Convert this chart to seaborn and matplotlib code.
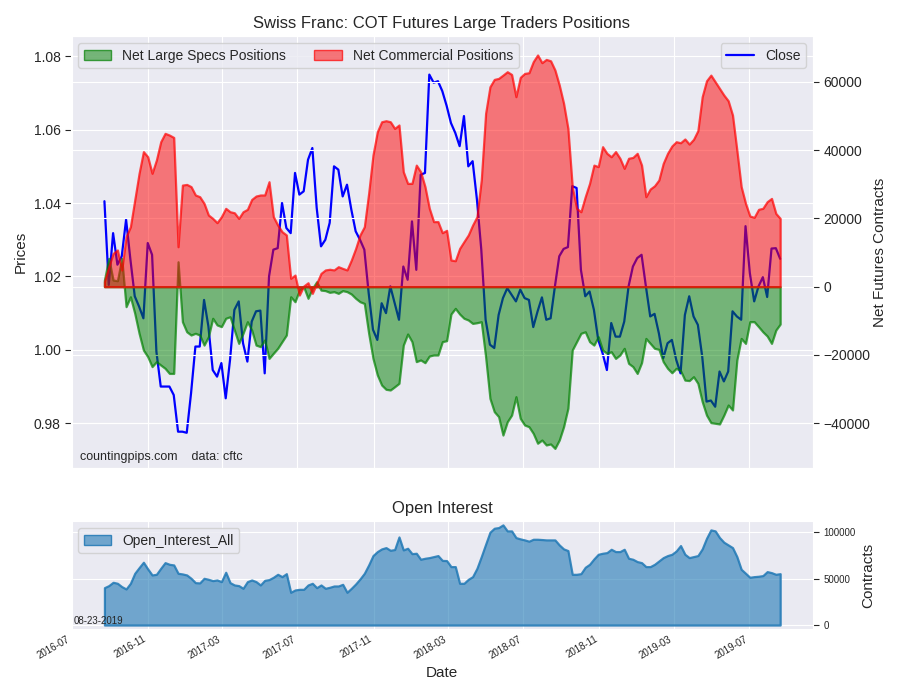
import pandas as pd
import seaborn as sns
import matplotlib
matplotlib.use("Agg")
import matplotlib.pyplot as plt
import matplotlib.dates as mdates
from matplotlib.patches import Patch

# weekly COT report dates (Tuesdays)
dates = pd.date_range("2016-08-23", periods=157, freq="7D")

close = [
    1.0405, 1.0177, 1.0318, 1.0232, 1.0255, 1.0355, 1.0246, 1.0146, 1.0118, 1.0086,
    1.0291, 1.0259, 0.9995, 0.9900, 0.9900, 0.9900, 0.9877, 0.9777, 0.9777, 0.9774,
    0.9882, 1.0009, 1.0009, 1.0136, 1.0064, 0.9945, 0.9927, 0.9964, 0.9868, 0.9973,
    1.0109, 1.0132, 1.0018, 0.9968, 1.0077, 1.0105, 1.0107, 0.9936, 1.0200, 1.0273,
    1.0277, 1.0400, 1.0332, 1.0318, 1.0482, 1.0423, 1.0432, 1.0518, 1.0550, 1.0387,
    1.0282, 1.0300, 1.0346, 1.0500, 1.0491, 1.0418, 1.0450, 1.0382, 1.0323, 1.0300,
    1.0273, 1.0155, 1.0055, 1.0027, 1.0127, 1.0100, 1.0173, 1.0127, 1.0082, 1.0227,
    1.0191, 1.0350, 1.0218, 1.0477, 1.0482, 1.0750, 1.0728, 1.0732, 1.0705, 1.0665,
    1.0618, 1.0591, 1.0555, 1.0637, 1.0500, 1.0514, 1.0409, 1.0273, 1.0082, 1.0014,
    1.0005, 1.0095, 1.0141, 1.0168, 1.0150, 1.0132, 1.0164, 1.0141, 1.0136, 1.0062,
    1.0105, 1.0143, 1.0082, 1.0086, 1.0173, 1.0255, 1.0275, 1.0280, 1.0446, 1.0441,
    1.0218, 1.0146, 1.0159, 1.0109, 1.0027, 0.9991, 0.9945, 1.0073, 1.0036, 1.0036,
    1.0077, 1.0173, 1.0227, 1.0250, 1.0259, 1.0173, 1.0091, 1.0098, 1.0045, 0.9977,
    1.0018, 1.0027, 0.9973, 0.9936, 1.0095, 1.0146, 1.0091, 1.0068, 0.9982, 0.9859,
    0.9862, 0.9845, 0.9941, 0.9914, 0.9941, 1.0105, 1.0091, 1.0082, 1.0337, 1.0209,
    1.0132, 1.0173, 1.0198, 1.0144, 1.0276, 1.0277, 1.0248,
]

net_specs = [
    1950, 8300, 1950, 1750, 8300, -5850, -2950, -7800, -13650, -18550,
    -20500, -23400, -21950, -22950, -23900, -25400, -25400, 7300, -10250, -13200,
    -14150, -13650, -14150, -17100, -14650, -9250, -11200, -11700, -9250, -8800,
    -12700, -16600, -13650, -10250, -12700, -17100, -17550, -15600, -21000, -19500,
    -18050, -16100, -14150, -2950, -4400, -1000, 0, -3400, -500, 1450,
    -1000, -1150, -1650, -1450, -1950, -1150, -1450, -2150, -3400, -4400,
    -4900, -13650, -21000, -25850, -28800, -30050, -30250, -29300, -28300, -17100,
    -13850, -16100, -21950, -21450, -22250, -20300, -20000, -20000, -16100, -15800,
    -8000, -6350, -8000, -9250, -9750, -10750, -10550, -10250, -20500, -32700,
    -36600, -38050, -43450, -39550, -37600, -32200, -38550, -40500, -41000, -42950,
    -45850, -44900, -46350, -46050, -47350, -44900, -41000, -35600, -18550, -16100,
    -13650, -13200, -16100, -17100, -14650, -18550, -19500, -19050, -21000, -20000,
    -18050, -22450, -23400, -25400, -22250, -15150, -16600, -18050, -18350, -21950,
    -23900, -25200, -23900, -24600, -27350, -27500, -26350, -28300, -33650, -37600,
    -39800, -40000, -40200, -37600, -34650, -36100, -21450, -15150, -16600, -10250,
    -10250, -11700, -13200, -14450, -16600, -12700, -10950,
]

net_commercial = [
    1500, 5850, 9750, 10750, 4900, 14650, 17550, 25400, 33200, 39550,
    38050, 33200, 37100, 42450, 44900, 44400, 43700, 11700, 29750, 29950,
    29300, 26850, 26350, 24400, 21000, 20000, 18750, 20500, 22950, 21950,
    21650, 20000, 21950, 22650, 25550, 26550, 26850, 26850, 30750, 20500,
    18050, 16100, 15150, 2450, 3400, -2450, 200, 1150, -1950, 1000,
    3900, 4900, 5100, 4900, 5850, 5350, 4900, 7800, 11200, 15150,
    17550, 27350, 38550, 45400, 48300, 48600, 48300, 46350, 47350, 33650,
    30250, 30250, 35600, 33650, 29300, 22950, 19050, 19050, 15800, 16500,
    7800, 7600, 11200, 13200, 15150, 18050, 20500, 31250, 50750, 58550,
    60700, 61000, 61950, 62950, 62150, 55650, 61300, 62450, 62650, 65900,
    67850, 65600, 66550, 66150, 63450, 59050, 53700, 46350, 29300, 22950,
    21950, 26350, 30250, 35600, 35150, 41000, 39050, 38050, 39550, 37600,
    34650, 37600, 37850, 39050, 35600, 26350, 28600, 29550, 31250, 36100,
    39050, 41200, 42450, 42150, 43250, 41750, 43150, 45700, 55650, 60300,
    61950, 60000, 58050, 56100, 54450, 50250, 40000, 29300, 24400, 20700,
    20300, 22650, 22950, 24900, 25850, 21450, 20000,
]

open_interest = [
    40300, 42500, 46100, 45000, 41400, 38900, 45000, 55800, 61900, 67700,
    60500, 54000, 54700, 61200, 67300, 65500, 64800, 55800, 55100, 54000,
    50400, 45700, 45400, 50400, 49300, 47900, 48600, 46800, 56900, 45700,
    43200, 42500, 39600, 46800, 48600, 46800, 43200, 48200, 49000, 51500,
    54700, 52200, 55400, 35300, 37800, 38500, 38500, 43200, 45000, 40300,
    43200, 39600, 40700, 42100, 42100, 43900, 35300, 39600, 44300, 49700,
    55800, 64800, 74900, 79200, 82100, 83500, 80600, 81400, 95000, 81000,
    82800, 77000, 77400, 70900, 72000, 72700, 73800, 74900, 69700, 69500,
    63000, 63000, 45000, 45000, 49300, 52200, 61200, 73800, 87100, 100100,
    104400, 105100, 108000, 101500, 101500, 94300, 92900, 91800, 90400, 92500,
    92500, 92200, 91800, 91800, 91800, 86400, 82100, 80300, 54700, 54700,
    55400, 62300, 65500, 71300, 76300, 77400, 78100, 81700, 79200, 79200,
    81700, 72000, 70900, 68400, 67300, 63000, 63000, 65500, 69100, 72700,
    74900, 76300, 79900, 85700, 76300, 72700, 73800, 74900, 82100, 93600,
    102600, 101500, 94300, 89300, 86400, 83500, 73800, 60100, 55800, 51500,
    52200, 52600, 53300, 57600, 56500, 54700, 55400,
]

sns.set_style("darkgrid")
plt.rcParams["font.family"] = ["Liberation Sans", "DejaVu Sans"]

fig = plt.figure(figsize=(9, 7), dpi=100)

# --- top panel: price + net positions
ax1 = fig.add_axes([0.0789, 0.3314, 0.8244, 0.6171])
ax2 = ax1.twinx()

sns.lineplot(x=dates, y=close, ax=ax1, color="blue", linewidth=1.6)

green_face = (0.0, 0.5, 0.0, 0.5)
green_edge = (0.0, 0.5, 0.0, 0.7)
red_face = (1.0, 0.0, 0.0, 0.5)
red_edge = (1.0, 0.0, 0.0, 0.7)
ax2.fill_between(dates, 0, net_specs, facecolor=green_face,
                 edgecolor=green_edge, linewidth=1.6)
ax2.fill_between(dates, 0, net_commercial, facecolor=red_face,
                 edgecolor=red_edge, linewidth=1.6)

ax1.set_ylim(0.9678, 1.0855)
ax1.set_yticks([0.98, 1.00, 1.02, 1.04, 1.06, 1.08])
ax1.set_yticklabels(["%.2f" % v for v in [0.98, 1.00, 1.02, 1.04, 1.06, 1.08]])
ax2.set_ylim(-53100, 73400)
ax1.set_xlim(pd.Timestamp("2016-06-30"), pd.Timestamp("2019-10-12"))

ax1.set_ylabel("Prices", fontsize=11)
ax2.set_ylabel("Net Futures Contracts", fontsize=11, labelpad=2)
ax1.set_xlabel("")
ax1.set_title("Swiss Franc: COT Futures Large Traders Positions", fontsize=12)
ax1.tick_params(axis="y", left=True, length=4, labelsize=10)
ax2.tick_params(axis="y", right=True, length=4, labelsize=10)
ax1.tick_params(axis="x", labelbottom=False, length=0)

handles = [
    Patch(facecolor=green_face, edgecolor=green_edge, label="Net Large Specs Positions"),
    Patch(facecolor=red_face, edgecolor=red_edge, label="Net Commercial Positions"),
]
leg1 = ax2.legend(handles=handles, loc="upper left", ncol=2, frameon=True, fontsize=10)
ax2.add_artist(leg1)
close_line = ax1.lines[0]
close_line.set_label("Close")
ax2.legend(handles=[close_line], loc="upper right", frameon=True, fontsize=10)

ax1.text(0.012, 0.012, "countingpips.com    data: cftc", transform=ax1.transAxes,
         fontsize=9, va="bottom", ha="left")

# --- bottom panel: open interest
ax3 = fig.add_axes([0.0789, 0.1014, 0.8244, 0.1543], sharex=ax1)
oi_face = (0.12, 0.47, 0.71, 0.6)
oi_edge = (0.12, 0.47, 0.71, 0.85)
ax3.fill_between(dates, 0, open_interest, facecolor=oi_face, edgecolor=oi_edge,
                 linewidth=1.6)
ax3.set_ylim(-4300, 112200)
ax3.set_yticks([0, 50000, 100000])
ax3.yaxis.tick_right()
ax3.yaxis.set_label_position("right")
ax3.tick_params(axis="y", right=True, left=False, length=4, labelsize=7)
ax3.set_ylabel("Contracts", fontsize=11)
ax3.set_title("Open Interest", fontsize=12)
ax3.set_xlabel("Date", fontsize=11)
ax3.legend(handles=[Patch(facecolor=oi_face, edgecolor=oi_edge, label="Open_Interest_All")],
           loc="upper left", frameon=True, fontsize=10)
ax3.text(0.003, 0.03, "08-23-2019", transform=ax3.transAxes, fontsize=7,
         va="bottom", ha="left")

ax3.xaxis.set_major_locator(mdates.MonthLocator(bymonth=(3, 7, 11)))
ax3.xaxis.set_major_formatter(mdates.DateFormatter("%Y-%m"))
ax3.tick_params(axis="x", labelsize=7, length=0)
for lab in ax3.get_xticklabels():
    lab.set_rotation(30)
    lab.set_ha("right")

fig.savefig("out.png", dpi=100, facecolor="white")
